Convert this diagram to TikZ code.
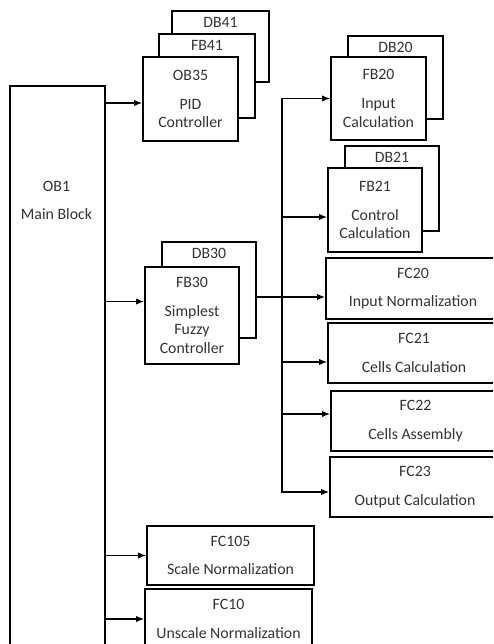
\documentclass[tikz,border=0pt]{standalone}
\usepackage{fontspec}
\setmainfont{Carlito}
\usetikzlibrary{arrows.meta,calc}
\tikzset{
    box/.style={rectangle,draw=black,line width=1.3pt,fill=white,align=center,inner sep=2pt,font=\fontsize{13.5}{16}\selectfont,text=black!80},
    % stacked block behind another one, tag sits in the visible strip
    backbox/.style={box,label={[anchor=north,inner sep=0pt,yshift=-6pt,font=\fontsize{13.5}{16}\selectfont,text=black!80]north:#1}},
    link/.style={-{Latex[length=7pt,width=5.5pt]},line width=1.3pt}
}

\begin{document}
\begin{tikzpicture}[x=0.03cm,y=-0.03cm]
    \useasboundingbox (0,0) rectangle (493,644);
    \clip (0,0) rectangle (493,644);
    % Main block (runs off the bottom)
    \node[box,minimum width=2.85cm,minimum height=17.25cm,anchor=north west] (ob1) at (9,85) {};
    \node[font=\fontsize{13.5}{16}\selectfont,text=black!80,align=center] (ob1txt) at (56.5,200) {OB1\\[8pt]Main Block};
    % PID stack
    \node[backbox=DB41,minimum width=2.91cm,minimum height=2.13cm] (db41) at (220.5,46.5) {};
    \node[backbox=FB41,minimum width=2.88cm,minimum height=2.52cm] (fb41) at (207,76) {};
    \node[box,minimum width=2.85cm,minimum height=2.52cm] (ob35) at (190.5,99) {OB35\\[8.5pt]PID\\Controller};
    % Fuzzy controller stack
    \node[backbox=DB30,minimum width=2.82cm,minimum height=2.88cm] (db30) at (209,290) {};
    \node[box,minimum width=2.82cm,minimum height=2.91cm] (fb30) at (192,315.5) {FB30\\[8.5pt]Simplest\\Fuzzy\\Controller};
    % Function blocks with instance DBs
    \node[backbox=DB20,minimum width=2.85cm,minimum height=2.49cm] (db20) at (395.5,77.5) {};
    \node[box,minimum width=2.85cm,minimum height=2.49cm] (fb20) at (378.5,98.5) {FB20\\[8.5pt]Input\\Calculation};
    \node[backbox=DB21,minimum width=2.82cm,minimum height=2.55cm] (db21) at (392,188.5) {};
    \node[box,minimum width=2.82cm,minimum height=2.52cm] (fb21) at (375,210) {FB21\\[8.5pt]Control\\Calculation};
    % Functions
    \node[box,minimum width=5.22cm,minimum height=1.83cm] (fc20) at (413,288.5) {FC20\\[8.5pt]Input Normalization};
    \node[box,minimum width=5.16cm,minimum height=1.8cm] (fc21) at (414,353) {FC21\\[8.5pt]Cells Calculation};
    \node[box,minimum width=5.07cm,minimum height=1.8cm] (fc22) at (415.5,421) {FC22\\[8.5pt]Cells Assembly};
    \node[box,minimum width=5.1cm,minimum height=1.8cm] (fc23) at (415,487) {FC23\\[8.5pt]Output Calculation};
    \node[box,minimum width=5.01cm,minimum height=1.77cm] (fc105) at (230.5,555.5) {FC105\\[8.5pt]Scale Normalization};
    \node[box,minimum width=5.01cm,minimum height=1.8cm] (fc10) at (228.5,619) {FC10\\[8.5pt]Unscale Normalization};
    % Calls from OB1
    \draw[link] ($(ob1.east |- ob35.west)+(0,4)$) -- ($(ob35.west)+(0,4)$);
    \draw[link] ($(ob1.east |- fb30.west)+(0,-14)$) -- ($(fb30.west)+(0,-14)$);
    \draw[link] (ob1.east |- fc105.west) -- (fc105.west);
    \draw[link] (ob1.east |- fc10.west) -- (fc10.west);
    % Calls from FB30
    \coordinate (hub) at ($(db30.east)+(25,7)$);
    \draw[line width=2.3pt] ($(db30.east)+(0,7)$) -- (hub);
    \draw[link] (hub) -- (hub -| fc20.west);
    \draw[link] (hub) |- (fb20.west);
    \draw[link] (hub) |- ($(fc23.west)+(0,5)$);
    \draw[link] ($(hub |- fb21.west)+(0,7)$) -- ($(fb21.west)+(0,7)$);
    \draw[link] ($(hub |- fc21.west)+(0,9)$) -- ($(fc21.west)+(0,9)$);
    \draw[link] ($(hub |- fc22.west)+(0,-7)$) -- ($(fc22.west)+(0,-7)$);
\end{tikzpicture}
\end{document}
